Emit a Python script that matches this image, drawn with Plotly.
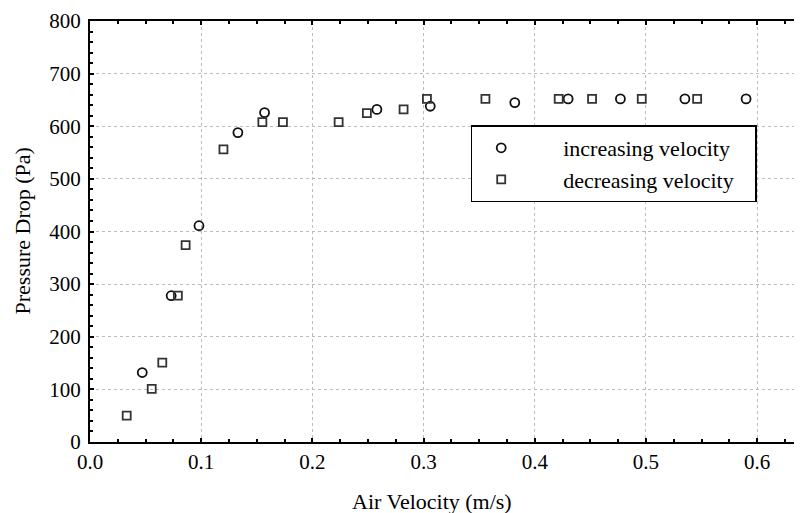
import plotly.graph_objects as go

# increasing velocity (circles)
inc_v = [0.047, 0.073, 0.098, 0.133, 0.157, 0.258, 0.306, 0.382, 0.430, 0.477, 0.535, 0.590]
inc_p = [132, 278, 411, 588, 626, 632, 638, 645, 652, 652, 652, 652]

# decreasing velocity (squares)
dec_v = [0.033, 0.0555, 0.065, 0.079, 0.086, 0.120, 0.155, 0.1735, 0.2236, 0.249, 0.282,
         0.303, 0.3556, 0.4215, 0.4515, 0.4962, 0.546]
dec_p = [50, 101, 151, 278, 374, 556, 608, 608, 608, 625, 632, 652, 652, 652, 652, 652, 652]

x_ticks = [0.0, 0.1, 0.2, 0.3, 0.4, 0.5, 0.6]
x_tick_text = ["0.0", "0.1", "0.2", "0.3", "0.4", "0.5", "0.6"]
y_ticks = [0, 100, 200, 300, 400, 500, 600, 700, 800]

FONT = "Liberation Serif, Times New Roman, serif"
PAD = "\u00a0" * 6
TAIL = "\u00a0" * 3

fig = go.Figure()
fig.add_trace(go.Scatter(
    x=inc_v, y=inc_p, mode="markers", name=PAD + "increasing velocity" + TAIL,
    legendgroup="a",
    marker=dict(symbol="circle-open", size=9, color="#111111", line=dict(width=1.8)),
))
fig.add_trace(go.Scatter(
    x=dec_v, y=dec_p, mode="markers", name=PAD + "decreasing velocity" + TAIL,
    legendgroup="b",
    marker=dict(symbol="square-open", size=8, color="#333333", line=dict(width=1.8)),
))

fig.update_layout(
    width=794, height=505,
    margin=dict(l=82, r=0, t=13, b=71),
    paper_bgcolor="white", plot_bgcolor="white",
    font=dict(family=FONT, size=21, color="black"),
    showlegend=True,
    legend=dict(
        x=0.5347, y=0.7518, xanchor="left", yanchor="top",
        bgcolor="white", bordercolor="black", borderwidth=1.5,
        font=dict(family=FONT, size=22, color="black"),
        itemwidth=48, tracegroupgap=0, traceorder="grouped",
    ),
    xaxis=dict(
        range=[0, 0.6403], tickvals=x_ticks, ticktext=x_tick_text,
        showline=True, linecolor="black", linewidth=2, mirror="allticks",
        ticks="inside", ticklen=4, tickwidth=2, tickcolor="black",
        minor=dict(dtick=0.025, ticks="inside", ticklen=3, tickwidth=2, tickcolor="black", showgrid=False),
        showgrid=True, gridcolor="#bbbbbb", griddash="dot", gridwidth=1,
        zeroline=False, tickfont=dict(family=FONT, size=21),
    ),
    yaxis=dict(
        range=[0, 800], tickvals=y_ticks,
        showline=True, linecolor="black", linewidth=2,
        ticks="inside", ticklen=4, tickwidth=2, tickcolor="black",
        minor=dict(dtick=20, ticks="inside", ticklen=3, tickwidth=2, tickcolor="black", showgrid=False),
        showgrid=True, gridcolor="#bbbbbb", griddash="dot", gridwidth=1,
        zeroline=False, tickfont=dict(family=FONT, size=21),
        ticklabelstandoff=3,
    ),
    annotations=[
        dict(text="Air Velocity (m/s)", xref="paper", yref="paper", x=0.480, y=-0.1425,
             xanchor="center", yanchor="middle", showarrow=False,
             font=dict(family=FONT, size=22, color="black")),
        dict(text="Pressure Drop (Pa)", xref="paper", yref="paper", x=-0.0955, y=0.5,
             xanchor="center", yanchor="middle", showarrow=False, textangle=-90,
             font=dict(family=FONT, size=22, color="black")),
    ],
)

fig.write_html("out.html")
